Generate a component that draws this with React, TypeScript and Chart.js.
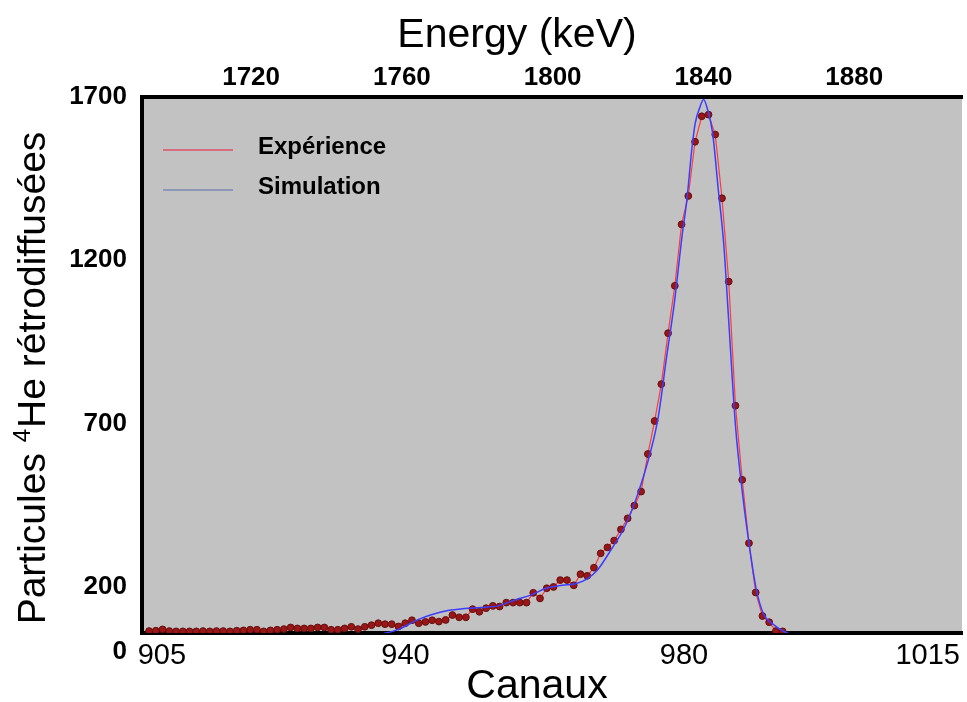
import React, { useEffect, useRef } from "react";
import { Chart, registerables } from "chart.js";

Chart.register(...registerables);

// ---- data ----
const channelTicks = [905, 940, 980, 1015];
const energyTicks = [1720, 1760, 1800, 1840, 1880];
const countTicks = [0, 200, 700, 1200, 1700];

// experimental spectrum: one point per channel
const expFirstChannel = 903.17;
const expChannelStep = 0.968;
const expCounts = [
  65, 66, 70, 65, 64, 64, 64, 64, 65, 64,
  65, 65, 64, 66, 67, 69, 69, 64, 67, 69,
  71, 76, 73, 73, 73, 76, 76, 69, 69, 73,
  78, 71, 78, 83, 89, 86, 86, 79, 89, 98,
  89, 93, 98, 94, 99, 114, 107, 107, 132, 124,
  135, 142, 140, 152, 152, 152, 152, 182, 165, 196,
  200, 221, 221, 205, 239, 234, 259, 303, 321, 342,
  376, 410, 449, 492, 607, 708, 821, 977, 1122, 1310,
  1397, 1563, 1641, 1646, 1585, 1390, 1135, 755, 528, 334,
  183, 111, 92, 65, 64,
];

// simulated spectrum
const simChannels = [
  935.0, 937.0, 939.0, 940.4, 941.8, 943.7, 946.1, 948.5, 950.8, 953.3,
  955.7, 958.0, 960.1, 962.5, 964.4, 966.1, 967.5, 969.4, 971.5, 973.2,
  975.2, 976.3, 977.5, 978.6, 979.7, 980.4, 981.1, 981.6, 982.3, 982.8,
  983.4, 984.1, 984.9, 985.7, 986.4, 987.4, 988.4, 989.4, 990.4, 991.4,
  992.9, 994.5, 996.0,
];
const simCounts = [
  50, 58, 70, 85, 100, 115, 128, 134, 137, 142,
  160, 175, 195, 205, 210, 225, 250, 310, 385, 475,
  615, 721, 905, 1068, 1272, 1384, 1537, 1619, 1670, 1692,
  1660, 1590, 1420, 1250, 1020, 690, 485, 323, 190, 118,
  84, 62, 50,
];

const FONT = "'Liberation Sans', Arial, sans-serif";

const bgPlugin = {
  id: "plotBg",
  beforeDraw(chart: any) {
    const { ctx, chartArea: a } = chart;
    ctx.save();
    ctx.fillStyle = "#c2c2c2";
    ctx.fillRect(a.left, a.top, a.right - a.left, a.bottom - a.top);
    ctx.restore();
  },
};

const textPlugin = {
  id: "titlesLegend",
  afterDraw(chart: any) {
    const ctx = chart.ctx;
    ctx.save();
    ctx.fillStyle = "#000";
    ctx.textAlign = "center";
    ctx.textBaseline = "alphabetic";
    ctx.font = `41px ${FONT}`;
    ctx.fillText("Energy (keV)", 517, 47);
    ctx.fillText("Canaux", 537, 698);

    // rotated y title with superscript 4
    const big = `39px ${FONT}`;
    const small = `24px ${FONT}`;
    const p1 = "Particules ";
    const p2 = "4";
    const p3 = "He rétrodiffusées";
    ctx.font = big;
    const w1 = ctx.measureText(p1).width;
    const w3 = ctx.measureText(p3).width;
    ctx.font = small;
    const w2 = ctx.measureText(p2).width + 1;
    const total = w1 + w2 + w3;
    ctx.translate(45, 378);
    ctx.rotate(-Math.PI / 2);
    ctx.textAlign = "left";
    let x = -total / 2;
    ctx.font = big;
    ctx.fillText(p1, x, 0);
    x += w1;
    ctx.font = small;
    ctx.fillText(p2, x, -15);
    x += w2;
    ctx.font = big;
    ctx.fillText(p3, x, 0);
    ctx.setTransform(1, 0, 0, 1, 0, 0);

    // legend inside the plot
    const items = [
      { label: chart.data.datasets[1].label, color: "#e0506a", y: 150, ty: 154 },
      { label: chart.data.datasets[0].label, color: "#7a8ab0", y: 190, ty: 194 },
    ];
    ctx.font = `bold 24px ${FONT}`;
    ctx.textAlign = "left";
    for (const it of items) {
      ctx.strokeStyle = it.color;
      ctx.lineWidth = 1.5;
      ctx.beginPath();
      ctx.moveTo(163, it.y);
      ctx.lineTo(233, it.y);
      ctx.stroke();
      ctx.fillStyle = "#000";
      ctx.fillText(it.label, 258, it.ty);
    }
    ctx.restore();
  },
};

export default function App() {
  const ref = useRef<HTMLCanvasElement | null>(null);

  useEffect(() => {
    if (!ref.current) return;
    const expData = expCounts.map((v, i) => ({ x: expFirstChannel + i * expChannelStep, y: v }));
    const simData = simChannels.map((c, i) => ({ x: c, y: simCounts[i] }));
    const chart = new Chart(ref.current, {
      type: "line",
      data: {
        datasets: [
          {
            label: "Simulation",
            data: simData,
            borderColor: "#3c3cff",
            borderWidth: 1.5,
            pointRadius: 0,
            cubicInterpolationMode: "monotone",
            tension: 0.4,
            order: 0,
            xAxisID: "x",
            yAxisID: "y",
          },
          {
            label: "Expérience",
            data: expData,
            borderColor: "#ff3a3a",
            borderWidth: 1.2,
            pointRadius: 3.4,
            pointBackgroundColor: "#9a1616",
            pointBorderColor: "#641010",
            pointBorderWidth: 1,
            tension: 0,
            order: 1,
            xAxisID: "x",
            yAxisID: "y",
          },
        ],
      },
      options: {
        responsive: false,
        animation: false,
        devicePixelRatio: 1,
        layout: { padding: 0 },
        plugins: { legend: { display: false }, tooltip: { enabled: false } },
        scales: {
          x: {
            type: "linear",
            position: "bottom",
            min: 902.15,
            max: 1019.92,
            afterBuildTicks: (s: any) => {
              s.ticks = channelTicks.map((v) => ({ value: v }));
            },
            afterFit: (s: any) => {
              s.height = 69;
            },
            ticks: { font: { family: FONT, size: 29 }, color: "#000", padding: -2, autoSkip: false, maxRotation: 0, callback: (v: any) => String(v) },
            grid: { display: false },
            border: { display: true, color: "#000", width: 4 },
          },
          x2: {
            type: "linear",
            position: "top",
            min: 1691.05,
            max: 1908.6,
            afterBuildTicks: (s: any) => {
              s.ticks = energyTicks.map((v) => ({ value: v }));
            },
            afterFit: (s: any) => {
              s.height = 97;
            },
            ticks: { font: { family: FONT, size: 26, weight: "bold" }, color: "#000", padding: -4, autoSkip: false, maxRotation: 0, callback: (v: any) => String(v) },
            grid: { display: false },
            border: { display: true, color: "#000", width: 4 },
          },
          y: {
            type: "linear",
            position: "left",
            min: 59,
            max: 1700,
            afterBuildTicks: (s: any) => {
              s.ticks = countTicks.map((v) => ({ value: v }));
            },
            afterFit: (s: any) => {
              s.width = 142;
            },
            ticks: { font: { family: FONT, size: 26, weight: "bold" }, color: "#000", padding: 7, autoSkip: false, callback: (v: any) => String(v) },
            grid: { display: false },
            border: { display: true, color: "#000", width: 4 },
          },
        },
      },
      plugins: [bgPlugin, textPlugin],
    } as any);
    return () => chart.destroy();
  }, []);

  return (
    <div style={{ position: "absolute", left: 0, top: 0, width: 967, height: 702, background: "#fff" }}>
      <canvas ref={ref} width={967} height={702} style={{ display: "block" }} />
    </div>
  );
}
